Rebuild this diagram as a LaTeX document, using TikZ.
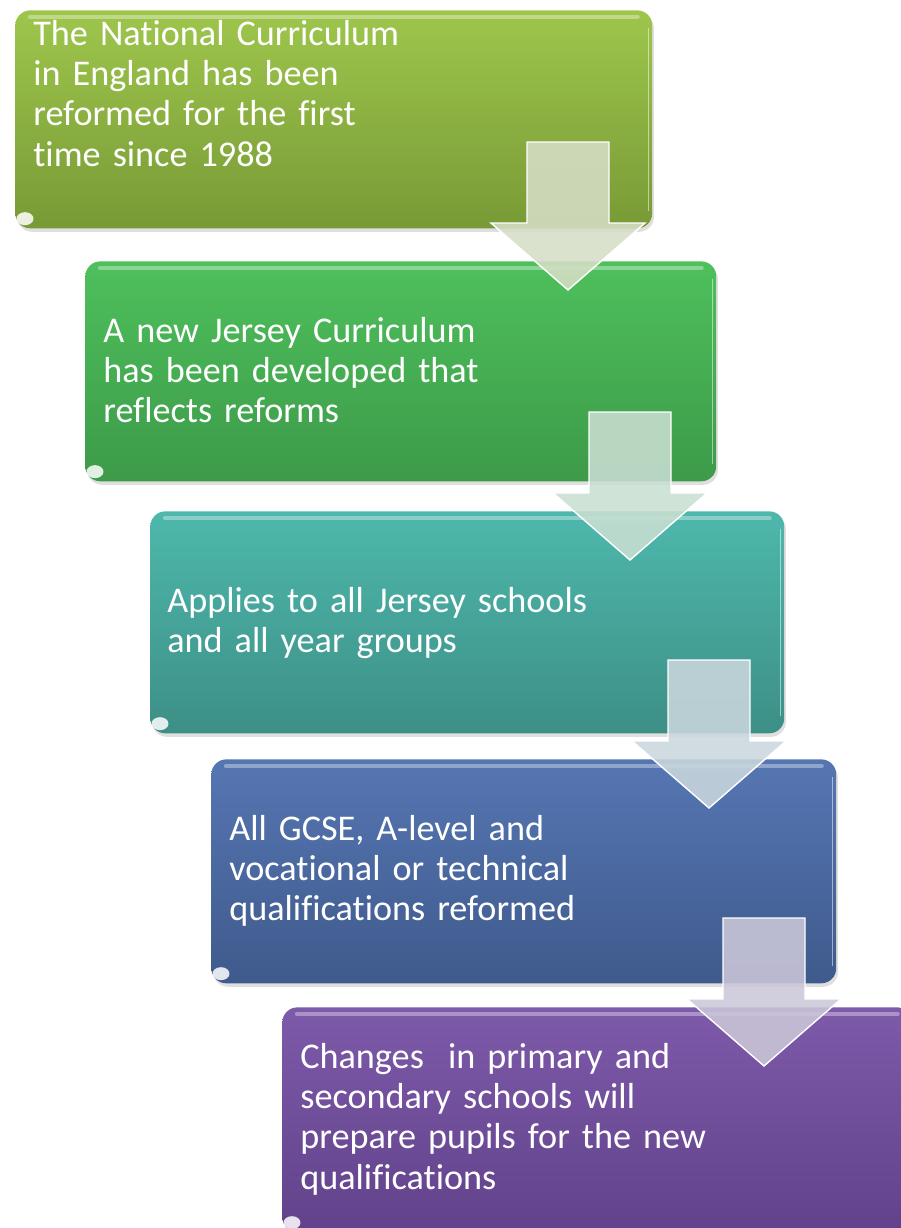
\documentclass[tikz,border=0pt]{standalone}
\usepackage{fontspec}
\setmainfont{Carlito}[Ligatures=NoCommon]
\usepackage{tikz}
\usetikzlibrary{positioning,calc,shadows}
\definecolor{stageonetop}{RGB}{158,198,76}
\definecolor{stageonebot}{RGB}{120,154,54}
\definecolor{stagetwotop}{RGB}{78,192,92}
\definecolor{stagetwobot}{RGB}{61,154,73}
\definecolor{stagethreetop}{RGB}{78,184,172}
\definecolor{stagethreebot}{RGB}{61,143,134}
\definecolor{stagefourtop}{RGB}{86,118,179}
\definecolor{stagefourbot}{RGB}{63,90,140}
\definecolor{stagefivetop}{RGB}{126,90,170}
\definecolor{stagefivebot}{RGB}{97,66,138}
\definecolor{flowone}{RGB}{213,222,198}
\definecolor{flowtwo}{RGB}{200,223,210}
\definecolor{flowthree}{RGB}{202,215,221}
\definecolor{flowfour}{RGB}{203,199,217}

\begin{document}
\begin{tikzpicture}[
    x=0.02cm, y=-0.02cm,
    stage/.style={anchor=north west, rounded corners=0.3cm, inner sep=0pt,
        drop shadow={shadow xshift=1pt, shadow yshift=-2pt, opacity=0.25}},
    stagetext/.style={anchor=base west, text width=12cm, align=left, inner sep=0pt,
        text=white, font=\fontsize{20.6}{23}\selectfont},
    flow/.style={draw=white, line width=0.8pt, fill opacity=0.88}
]
\useasboundingbox (0,0) rectangle (900,1228);

% Stage boxes
\node[stage, minimum width=12.74cm, minimum height=4.36cm, top color=stageonetop, bottom color=stageonebot] (b1) at (15,10) {};
\node[stage, minimum width=12.62cm, minimum height=4.4cm, top color=stagetwotop, bottom color=stagetwobot] (b2) at (85,261) {};
\node[stage, minimum width=12.68cm, minimum height=4.44cm, top color=stagethreetop, bottom color=stagethreebot] (b3) at (150,511) {};
\node[stage, minimum width=12.5cm, minimum height=4.48cm, top color=stagefourtop, bottom color=stagefourbot] (b4) at (211,759) {};
\node[stage, minimum width=12.6cm, minimum height=4.5cm, top color=stagefivetop, bottom color=stagefivebot] (b5) at (282,1007) {};

% Gloss on the boxes
\foreach \b in {b1,b2,b3,b4,b5} {
    \draw[white, opacity=0.35, line width=2.5pt, line cap=round] ([xshift=0.3cm, yshift=-0.14cm]\b.north west) -- ([xshift=-0.3cm, yshift=-0.14cm]\b.north east);
    \draw[white, opacity=0.5, line width=0.8pt] ([xshift=-0.08cm, yshift=-0.35cm]\b.north east) -- ([xshift=-0.08cm, yshift=0.35cm]\b.south east);
    \fill[white, opacity=0.85] ([xshift=0.2cm, yshift=0.2cm]\b.south west) ellipse (0.17cm and 0.13cm);
}

% Texts
\node[stagetext] (t1) at (33,45) {The National Curriculum\\ in England has been\\ reformed for the first\\ time since 1988};
\node[stagetext] (t2) at (103,342) {A new Jersey Curriculum\\ has been developed that\\ reflects reforms};
\node[stagetext] (t3) at (167,612) {Applies to all Jersey schools\\ and all year groups};
\node[stagetext] (t4) at (229,840) {All GCSE, A-level and\\ vocational or technical\\ qualifications reformed};
\node[stagetext] (t5) at (300,1068) {Changes~ in primary and\\ secondary schools will\\ prepare pupils for the new\\ qualifications};

% Down arrows between the stages
\foreach \cx/\ty/\col in {568/142/flowone, 630/412/flowtwo, 709/660/flowthree, 764/918/flowfour} {
    \filldraw[flow, fill=\col] ({\cx-41},\ty) -- ({\cx+41},\ty) -- ({\cx+41},{\ty+81}) -- ({\cx+77},{\ty+81})
        -- (\cx,{\ty+148}) -- ({\cx-77},{\ty+81}) -- ({\cx-41},{\ty+81}) -- cycle;
}

\end{tikzpicture}
\end{document}
